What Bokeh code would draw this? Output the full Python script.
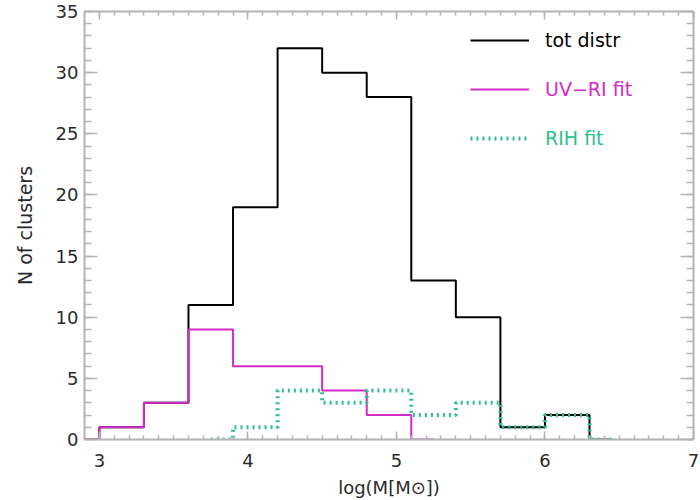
from bokeh.plotting import figure
from bokeh.models import (LinearAxis, SingleIntervalTicker, Legend, LegendItem,
                          Range1d, CustomJSTickFormatter)
from bokeh.embed import file_html
from bokeh.resources import INLINE

# ---- data (bin centres, bin width 0.3 in log M) ----
tot_x = [2.85, 3.15, 3.45, 3.75, 4.05, 4.35, 4.65, 4.95, 5.25, 5.55, 5.85, 6.15, 6.45]
tot_n = [0, 1, 3, 11, 19, 32, 30, 28, 13, 10, 1, 2, 0]

uvri_x = [2.85, 3.15, 3.45, 3.75, 4.05, 4.35, 4.65, 4.95, 5.25]
uvri_n = [0, 1, 3, 9, 6, 6, 4, 2, 0]

rih_x = [3.75, 4.05, 4.35, 4.65, 4.95, 5.25, 5.55, 5.85, 6.15, 6.45]
rih_n = [0, 1, 4, 3, 4, 2, 3, 1, 2, 0]

labels = ["tot distr", "UV\u2212RI fit", "RIH fit"]
colors = ["#000000", "#d42ac8", "#2ec08c"]

FONT = "DejaVu Sans"
AX_COL = "#b4b4b4"
TXT_COL = "#2a2a2a"

p = figure(width=700, height=500, x_range=Range1d(2.9, 7), y_range=Range1d(0, 35),
           output_backend="svg", toolbar_location=None,
           min_border_left=84, min_border_right=7, min_border_top=11,
           min_border_bottom=60)
p.grid.visible = False
p.outline_line_color = None
p.background_fill_color = "white"
p.border_fill_color = "white"

xt = SingleIntervalTicker(interval=1, num_minor_ticks=10)
yt = SingleIntervalTicker(interval=5, num_minor_ticks=5)


def style_axis(ax, horizontal, show_labels):
    ax.axis_line_color = AX_COL
    ax.axis_line_width = 2
    ax.major_tick_line_color = AX_COL
    ax.minor_tick_line_color = AX_COL
    ax.major_tick_line_width = 1.5
    ax.minor_tick_line_width = 1.5
    ax.major_tick_out = 0
    ax.minor_tick_out = 0
    if horizontal:
        ax.major_tick_in = 8
        ax.minor_tick_in = 4
    else:
        ax.major_tick_in = 13
        ax.minor_tick_in = 7
    ax.major_label_text_font = FONT
    ax.major_label_text_color = TXT_COL
    ax.axis_label_text_font = FONT
    ax.axis_label_text_color = TXT_COL
    ax.axis_label_text_font_style = "normal"
    if not show_labels:
        ax.formatter = CustomJSTickFormatter(code="return ''")
        ax.major_label_standoff = 0


xa = p.xaxis[0]
xa.ticker = xt
style_axis(xa, True, True)
xa.major_label_text_font_size = "18px"
xa.major_label_standoff = 14
xa.axis_label = "log(M[M\u2299])"
xa.axis_label_text_font_size = "18px"
xa.axis_label_standoff = 7

ya = p.yaxis[0]
ya.ticker = yt
style_axis(ya, False, True)
ya.major_label_text_font_size = "18px"
ya.major_label_standoff = 6
ya.axis_label = "N of clusters"
ya.axis_label_text_font_size = "19px"
ya.axis_label_standoff = 17

top = LinearAxis(ticker=xt)
style_axis(top, True, False)
p.add_layout(top, "above")
right = LinearAxis(ticker=yt)
style_axis(right, False, False)
p.add_layout(right, "right")

r_tot = p.step(tot_x, tot_n, mode="center", line_color=colors[0], line_width=2)
r_uv = p.step(uvri_x, uvri_n, mode="center", line_color=colors[1], line_width=2)
r_rih = p.step(rih_x, rih_n, mode="center", line_color=colors[2], line_width=4,
               line_dash="2 4")

for r, lab, col, ly in zip([r_tot, r_uv, r_rih], labels, colors, [388, 339, 290]):
    lg = Legend(items=[LegendItem(label=lab, renderers=[r])], location=(386, ly),
                label_text_color=col, label_text_font=FONT,
                label_text_font_size="19px", border_line_color=None,
                background_fill_alpha=0, padding=0, margin=0, spacing=0,
                glyph_width=59, glyph_height=20, label_height=20,
                label_standoff=16)
    p.add_layout(lg)

open("out.html", "w").write(file_html(p, INLINE))
